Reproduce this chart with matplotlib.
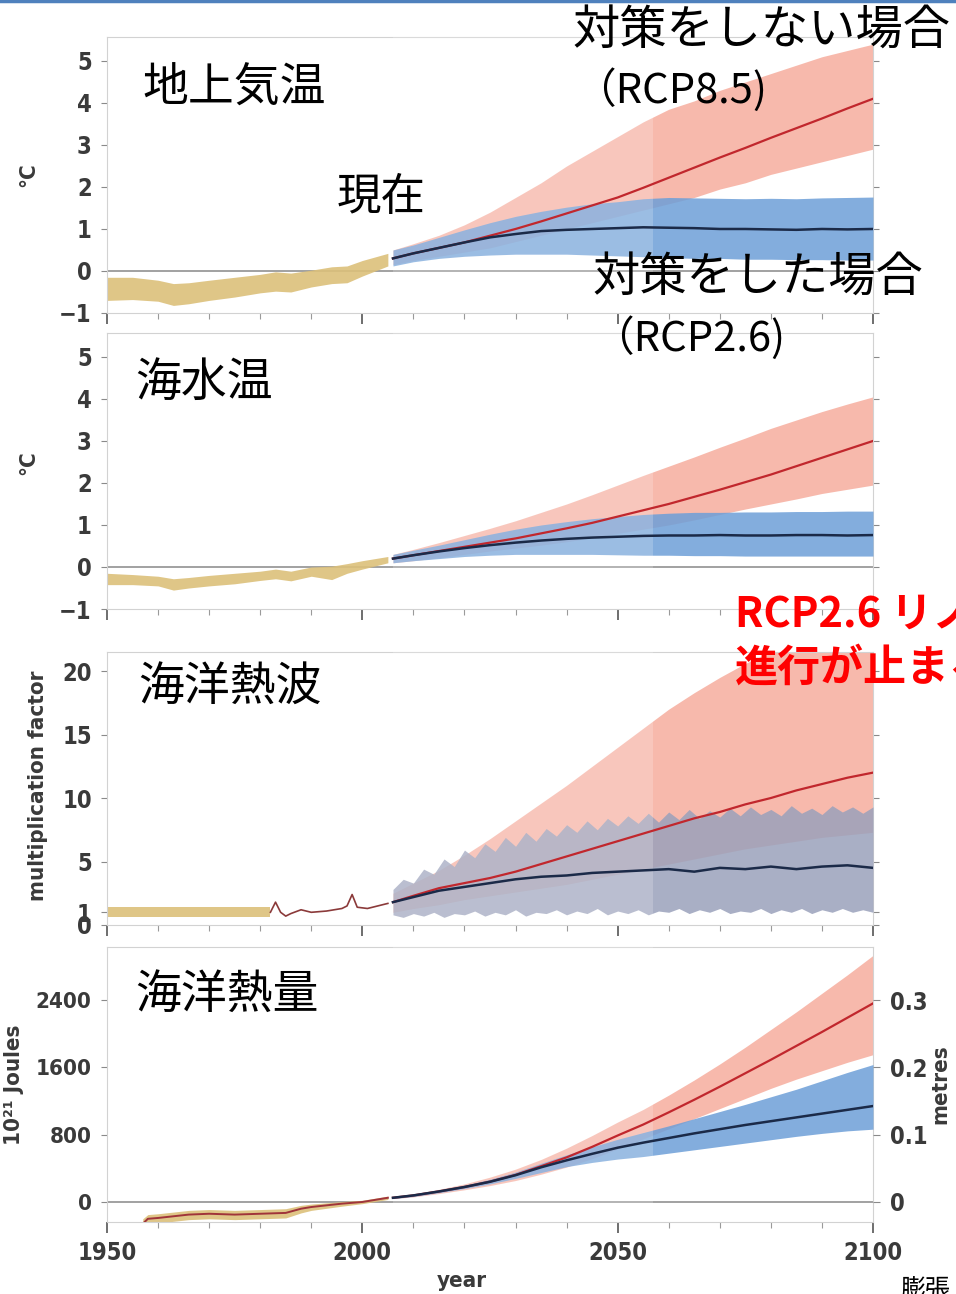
import matplotlib.pyplot as plt
from matplotlib.lines import Line2D
from matplotlib.ticker import MultipleLocator

W, H = 956, 1294
JP = ['Noto Sans CJK JP', 'DejaVu Sans']
NUM = ['DejaVu Sans']

# ---- shared years ----
hist_years = [1950, 1955, 1960, 1963, 1966, 1970, 1975, 1980, 1983, 1986, 1990, 1994, 1997, 2000, 2005]
proj_years = [2006, 2010, 2015, 2020, 2025, 2030, 2035, 2040, 2045, 2050,
              2055, 2060, 2065, 2070, 2075, 2080, 2085, 2090, 2095, 2100]

# ---- surface air temperature (degC) ----
sat_hist_hi = [-0.15, -0.15, -0.22, -0.30, -0.28, -0.22, -0.15, -0.08, -0.02, -0.05, 0.02, 0.10, 0.12, 0.25, 0.42]
sat_hist_lo = [-0.70, -0.68, -0.72, -0.82, -0.78, -0.70, -0.62, -0.52, -0.48, -0.50, -0.38, -0.30, -0.28, -0.12, 0.12]
sat_85 = [0.30, 0.42, 0.55, 0.68, 0.84, 1.00, 1.18, 1.37, 1.56, 1.75, 1.98, 2.22, 2.46, 2.70, 2.93, 3.17, 3.40, 3.63, 3.87, 4.10]
sat_85_hi = [0.50, 0.65, 0.85, 1.10, 1.40, 1.75, 2.10, 2.50, 2.85, 3.20, 3.55, 3.85, 4.05, 4.30, 4.50, 4.70, 4.90, 5.10, 5.25, 5.40]
sat_85_lo = [0.15, 0.25, 0.35, 0.45, 0.55, 0.70, 0.85, 1.00, 1.15, 1.30, 1.45, 1.60, 1.75, 1.95, 2.10, 2.30, 2.45, 2.60, 2.75, 2.90]
sat_26 = [0.30, 0.42, 0.55, 0.68, 0.80, 0.88, 0.95, 0.98, 1.00, 1.02, 1.04, 1.03, 1.02, 1.00, 1.00, 0.99, 0.98, 1.00, 0.99, 1.00]
sat_26_hi = [0.50, 0.62, 0.80, 0.98, 1.15, 1.30, 1.42, 1.52, 1.60, 1.65, 1.72, 1.75, 1.74, 1.73, 1.72, 1.73, 1.72, 1.74, 1.75, 1.76]
sat_26_lo = [0.12, 0.22, 0.30, 0.35, 0.38, 0.40, 0.40, 0.40, 0.38, 0.36, 0.34, 0.32, 0.30, 0.30, 0.28, 0.28, 0.27, 0.27, 0.26, 0.26]

# ---- sea surface temperature (degC) ----
sst_hist_hi = [-0.15, -0.18, -0.22, -0.28, -0.25, -0.20, -0.15, -0.10, -0.05, -0.10, 0.00, 0.02, 0.08, 0.15, 0.25]
sst_hist_lo = [-0.42, -0.42, -0.45, -0.55, -0.50, -0.45, -0.40, -0.32, -0.28, -0.33, -0.22, -0.30, -0.15, -0.05, 0.10]
sst_85 = [0.20, 0.28, 0.38, 0.48, 0.58, 0.68, 0.80, 0.92, 1.05, 1.20, 1.35, 1.50, 1.67, 1.84, 2.02, 2.20, 2.40, 2.60, 2.80, 3.00]
sst_85_hi = [0.30, 0.42, 0.58, 0.75, 0.92, 1.10, 1.30, 1.50, 1.72, 1.95, 2.18, 2.40, 2.62, 2.85, 3.07, 3.30, 3.50, 3.70, 3.88, 4.05]
sst_85_lo = [0.10, 0.15, 0.22, 0.30, 0.38, 0.45, 0.52, 0.60, 0.70, 0.80, 0.90, 1.00, 1.12, 1.25, 1.38, 1.50, 1.62, 1.75, 1.85, 1.95]
sst_26 = [0.20, 0.28, 0.37, 0.45, 0.52, 0.58, 0.63, 0.67, 0.70, 0.72, 0.74, 0.75, 0.75, 0.76, 0.75, 0.75, 0.76, 0.76, 0.75, 0.76]
sst_26_hi = [0.30, 0.40, 0.52, 0.65, 0.78, 0.90, 1.00, 1.08, 1.15, 1.20, 1.25, 1.28, 1.30, 1.30, 1.31, 1.31, 1.32, 1.32, 1.33, 1.33]
sst_26_lo = [0.10, 0.15, 0.20, 0.25, 0.28, 0.30, 0.30, 0.30, 0.30, 0.29, 0.28, 0.28, 0.27, 0.27, 0.26, 0.26, 0.26, 0.26, 0.26, 0.26]

# ---- marine heatwaves (multiplication factor) ----
mhw_band_years = [1950, 1960, 1970, 1982]
mhw_band_hi = [1.4, 1.4, 1.4, 1.4]
mhw_band_lo = [0.6, 0.6, 0.6, 0.6]
mhw_obs_years = [1982, 1983, 1984, 1985, 1986, 1988, 1990, 1993, 1996, 1997, 1998, 1999, 2001, 2003, 2005]
mhw_obs = [1.0, 1.8, 1.0, 0.7, 0.9, 1.2, 1.0, 1.1, 1.3, 1.5, 2.4, 1.4, 1.3, 1.5, 1.7]
mhw_85 = [1.8, 2.3, 2.9, 3.3, 3.7, 4.2, 4.8, 5.4, 6.0, 6.6, 7.2, 7.8, 8.4, 8.9, 9.5, 10.0, 10.6, 11.1, 11.6, 12.0]
mhw_85_hi = [2.5, 3.3, 4.3, 5.5, 6.8, 8.2, 9.6, 11.0, 12.5, 14.0, 15.5, 17.0, 18.3, 19.5, 20.6, 21.5, 22.3, 23.0, 23.7, 24.4]
mhw_85_lo = [1.0, 1.3, 1.6, 2.0, 2.3, 2.6, 2.9, 3.2, 3.6, 4.0, 4.4, 4.8, 5.2, 5.6, 6.0, 6.3, 6.6, 6.9, 7.1, 7.3]
mhw_26 = [1.8, 2.2, 2.7, 3.0, 3.3, 3.6, 3.8, 3.9, 4.1, 4.2, 4.3, 4.4, 4.2, 4.5, 4.4, 4.6, 4.4, 4.6, 4.7, 4.5]
mhw_26_band_years = list(range(2006, 2101, 2))
mhw_26_hi = [2.8, 3.6, 3.3, 4.4, 4.0, 5.2, 4.6, 5.9, 5.3, 6.4, 5.8, 6.9, 6.2, 7.3, 6.6, 7.6,
             7.0, 7.9, 7.3, 8.2, 7.5, 8.4, 7.8, 8.6, 8.0, 8.8, 8.1, 8.9, 8.3, 9.1, 8.4, 9.0,
             8.5, 9.2, 8.6, 9.3, 8.7, 9.1, 8.6, 9.4, 8.8, 9.2, 8.7, 9.4, 8.9, 9.3, 8.8, 9.3]
mhw_26_lo = [0.8, 0.6, 0.9, 0.7, 1.0, 0.6, 0.9, 0.8, 1.1, 0.7, 1.0, 0.8, 1.2, 0.7, 1.0, 0.9,
             1.2, 0.8, 1.1, 0.9, 1.3, 0.8, 1.1, 0.9, 1.2, 0.8, 1.1, 1.0, 1.3, 0.9, 1.2, 1.0,
             1.3, 0.9, 1.1, 1.0, 1.3, 0.9, 1.2, 1.0, 1.3, 0.9, 1.2, 1.0, 1.3, 1.0, 1.2, 1.0]

# ---- ocean heat content (10^21 J) ----
ohc_hist_years = [1957, 1958, 1960, 1963, 1966, 1970, 1975, 1980, 1985, 1988, 1990, 1993, 1996, 2000, 2005]
ohc_hist = [-260, -200, -190, -170, -150, -140, -150, -140, -130, -80, -60, -40, -20, 0, 50]
ohc_hist_hi = [-200, -150, -140, -120, -100, -90, -100, -90, -80, -40, -25, -10, 5, 20, 70]
ohc_hist_lo = [-300, -260, -250, -230, -210, -200, -210, -200, -190, -130, -100, -75, -50, -20, 30]
ohc_85 = [50, 78, 125, 178, 242, 322, 425, 530, 655, 790, 920, 1065, 1215, 1370, 1530, 1690, 1855, 2020, 2190, 2360]
ohc_85_hi = [60, 95, 150, 215, 295, 390, 505, 640, 790, 950, 1100, 1270, 1450, 1640, 1840, 2050, 2260, 2480, 2700, 2930]
ohc_85_lo = [40, 60, 100, 145, 195, 255, 330, 415, 515, 630, 750, 870, 990, 1110, 1230, 1350, 1460, 1560, 1660, 1750]
ohc_26 = [50, 78, 125, 178, 240, 318, 412, 495, 572, 645, 705, 760, 815, 865, 915, 960, 1005, 1050, 1095, 1140]
ohc_26_hi = [60, 90, 140, 200, 270, 355, 460, 560, 655, 745, 825, 905, 990, 1075, 1160, 1250, 1340, 1440, 1540, 1633]
ohc_26_lo = [40, 65, 110, 160, 215, 280, 350, 420, 470, 510, 540, 580, 620, 660, 700, 740, 780, 815, 845, 865]

TAN = '#dcc07a'
PINK = '#f6ad9e'
BLUE = '#6d9fd8'
GREY_BLUE = '#9aa1bb'
RED = '#c1272d'
NAVY = '#1b2a48'
TICK = '#3a3a3a'


def box(top_px, bottom_px):
    return [107 / W, 1 - bottom_px / H, (873 - 107) / W, (bottom_px - top_px) / H]


def px(x, y):
    return x / W, 1 - y / H


def num_font(lab, size=17):
    lab.set_family(NUM)
    lab.set_fontweight('bold')
    lab.set_fontstretch('condensed')
    lab.set_fontsize(size)


def style_axis(ax, yticks, show_xlabels=False):
    ax.set_xlim(1950, 2100)
    ax.set_yticks(yticks)
    ax.xaxis.set_major_locator(MultipleLocator(50))
    ax.xaxis.set_minor_locator(MultipleLocator(10))
    for s in ax.spines.values():
        s.set_color('#d2d2d2')
        s.set_linewidth(0.8)
    ax.tick_params(axis='y', which='both', left=True, right=True, direction='out',
                   length=4, width=0.8, color='#8a8a8a', pad=7, labelcolor=TICK)
    ax.tick_params(axis='x', which='major', length=8, width=1.2, color='#555555',
                   pad=6, labelcolor=TICK, labelbottom=show_xlabels)
    ax.tick_params(axis='x', which='minor', length=4, width=0.8, color='#9a9a9a')
    for lab in ax.get_yticklabels() + ax.get_xticklabels():
        num_font(lab)


def draw_panel(ax, hy, hhi, hlo, hi85, lo85, m85, hi26, lo26, m26, band26_years=None, band26_color=BLUE):
    if hy is not None:
        ax.fill_between(hy, hlo, hhi, color=TAN, lw=0, alpha=0.9, zorder=2)
    ax.fill_between(proj_years, lo85, hi85, color=PINK, lw=0, alpha=0.85, zorder=2)
    by = band26_years if band26_years is not None else proj_years
    ax.fill_between(by, lo26, hi26, color=band26_color, lw=0, alpha=0.85, zorder=3)
    # washed-out strip left of ~2057 seen in the source picture
    ax.axvspan(2006, 2057, color='white', alpha=0.2, lw=0, zorder=3.5)
    ax.plot(proj_years, m85, color=RED, lw=1.6, zorder=5)
    ax.plot(proj_years, m26, color=NAVY, lw=1.8, zorder=6)


def ylabel(ax, text, x, y=0.5, rot=90):
    lab = ax.set_ylabel(text, color=TICK, rotation=rot)
    num_font(lab, 16)
    ax.yaxis.set_label_coords(x, y)


fig = plt.figure(figsize=(W / 100, H / 100), dpi=100)
fig.patch.set_facecolor('white')

# panel 1: surface air temperature
ax1 = fig.add_axes(box(37, 313))
ax1.set_ylim(-1.0, 5.57)
ax1.axhline(0, color='#9a9a9a', lw=1.3, zorder=1)
draw_panel(ax1, hist_years, sat_hist_hi, sat_hist_lo, sat_85_hi, sat_85_lo, sat_85,
           sat_26_hi, sat_26_lo, sat_26)
style_axis(ax1, [-1, 0, 1, 2, 3, 4, 5])
ylabel(ax1, '°C', -0.09)

# panel 2: sea surface temperature
ax2 = fig.add_axes(box(333, 609))
ax2.set_ylim(-1.0, 5.57)
ax2.axhline(0, color='#9a9a9a', lw=1.3, zorder=1)
draw_panel(ax2, hist_years, sst_hist_hi, sst_hist_lo, sst_85_hi, sst_85_lo, sst_85,
           sst_26_hi, sst_26_lo, sst_26)
style_axis(ax2, [-1, 0, 1, 2, 3, 4, 5])
ylabel(ax2, '°C', -0.09, 0.53)

# panel 3: marine heatwaves
ax3 = fig.add_axes(box(652, 925))
ax3.set_ylim(0, 21.5)
draw_panel(ax3, mhw_band_years, mhw_band_hi, mhw_band_lo, mhw_85_hi, mhw_85_lo, mhw_85,
           mhw_26_hi, mhw_26_lo, mhw_26, band26_years=mhw_26_band_years,
           band26_color=GREY_BLUE)
ax3.plot(mhw_obs_years, mhw_obs, color='#8b3a3a', lw=1.2, zorder=5)
style_axis(ax3, [0, 1, 5, 10, 15, 20])
ylabel(ax3, 'multiplication factor', -0.077, 0.51)

# panel 4: ocean heat content
ax4 = fig.add_axes(box(947, 1222))
ax4.set_ylim(-238, 3030)
ax4.axhline(0, color='#9a9a9a', lw=1.3, zorder=1)
draw_panel(ax4, ohc_hist_years, ohc_hist_hi, ohc_hist_lo, ohc_85_hi, ohc_85_lo, ohc_85,
           ohc_26_hi, ohc_26_lo, ohc_26)
ax4.plot(ohc_hist_years, ohc_hist, color='#a0343a', lw=1.4, zorder=5)
style_axis(ax4, [0, 800, 1600, 2400], show_xlabels=True)
ax4.tick_params(axis='y', right=False)
for lab in ax4.get_yticklabels():
    num_font(lab, 16)
ylabel(ax4, '10²¹ Joules', -0.108)

ax4r = ax4.twinx()
ax4r.set_ylim(-238 / 8000, 3030 / 8000)
ax4r.set_yticks([0, 0.1, 0.2, 0.3])
ax4r.set_yticklabels(['0', '0.1', '0.2', '0.3'])
for s in ax4r.spines.values():
    s.set_visible(False)
ax4r.tick_params(axis='y', direction='out', length=5, width=0.8, color='#8a8a8a',
                 pad=7, labelcolor=TICK)
for lab in ax4r.get_yticklabels():
    num_font(lab)
ylabel(ax4r, 'metres', 1.075)

year_lab = fig.text(*px(462, 1281), 'year', ha='center', va='center', color=TICK)
num_font(year_lab, 16)

# ---- slide annotations ----
label_box = dict(facecolor='white', edgecolor='none', pad=6)
fig.text(*px(142, 88), '地上気温', fontsize=33, family=JP, va='center', bbox=label_box, zorder=10)
fig.text(*px(135, 383), '海水温', fontsize=33, family=JP, va='center', bbox=label_box, zorder=10)
fig.text(*px(138, 688), '海洋熱波', fontsize=33, family=JP, va='center', bbox=label_box, zorder=10)
fig.text(*px(135, 995), '海洋熱量', fontsize=33, family=JP, va='center', bbox=label_box, zorder=10)
fig.text(*px(337, 197), '現在', fontsize=32, family=JP, va='center', zorder=10)
fig.text(*px(572, 30), '対策をしない場合', fontsize=34, family=JP, va='center', zorder=10)
fig.text(*px(574, 90), '（RCP8.5)', fontsize=30, family=JP, va='center', zorder=10)
fig.text(*px(592, 277), '対策をした場合', fontsize=34, family=JP, va='center', zorder=10)
fig.text(*px(592, 338), '（RCP2.6)', fontsize=30, family=JP, va='center', zorder=10)
fig.text(*px(735, 615), 'RCP2.6 リノ', fontsize=30, family=JP, fontweight='bold',
         color='#ff0000', va='center', zorder=10)
fig.text(*px(735, 668), '進行が止まる', fontsize=31, family=JP, fontweight='bold',
         color='#ff0000', va='center', zorder=10)
fig.text(*px(900, 1290), '膨張', fontsize=18, family=JP, va='center', zorder=10,
         bbox=dict(facecolor='white', edgecolor='none', pad=8))

# slide frame line at the very top
fig.add_artist(Line2D([0, 1], [0.999, 0.999], color='#4f81bd', lw=2.5))

fig.savefig('out.png', dpi=100)
